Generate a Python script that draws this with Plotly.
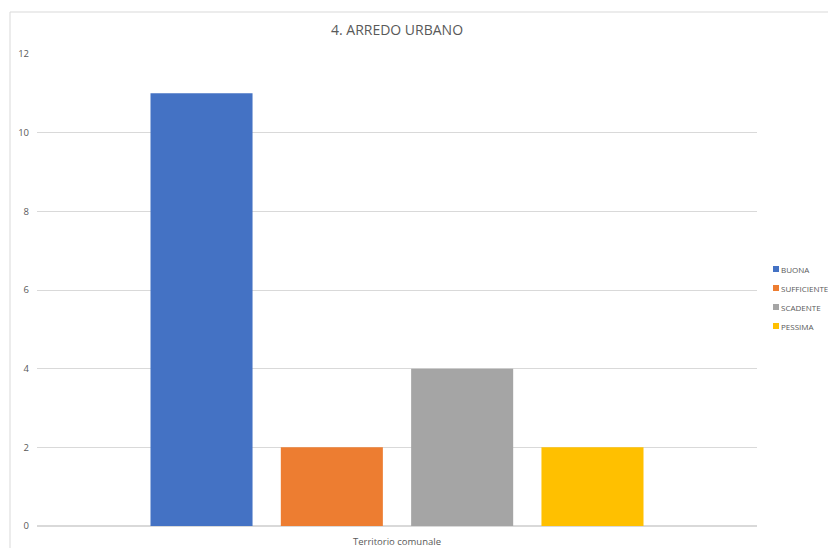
import plotly.graph_objects as go

categories = ["Territorio comunale"]
series_names = ["BUONA", "SUFFICIENTE", "SCADENTE", "PESSIMA"]
series_values = [[11], [2], [4], [2]]
colors = ["#4472C4", "#ED7D31", "#A5A5A5", "#FFC000"]
y_ticks = [0, 2, 4, 6, 8, 10, 12]

FONT = "Open Sans, Liberation Sans, sans-serif"
GREY = "#595959"

fig = go.Figure()
for name, vals, col in zip(series_names, series_values, colors):
    fig.add_trace(go.Bar(x=categories, y=vals, name=name, showlegend=False,
                         marker=dict(color=col, line=dict(width=0))))

# page body has an 8px margin, so figure coords = screen coords - 8
L, R, T, B = 29, 87, 46, 30
PW, PH = 836 - L - R, 548 - T - B

def px(fx):
    return (fx - L) / PW

def py(fy):
    return (548 - B - fy) / PH

fig.update_layout(
    width=836, height=548,
    margin=dict(l=L, r=R, t=T, b=B, autoexpand=False),
    paper_bgcolor="white", plot_bgcolor="white",
    barmode="group", bargap=0.276, bargroupgap=0.217,
    title=dict(text="4. ARREDO URBANO", x=0.5, xref="paper", xanchor="center",
               y=1 - 22/548, yanchor="middle",
               font=dict(family=FONT, size=14, color=GREY)),
    font=dict(family=FONT, size=10, color=GREY),
    showlegend=False,
)
fig.update_yaxes(range=[0, 12], tickvals=y_ticks, showgrid=True, gridcolor="#D9D9D9", gridwidth=1,
                 zeroline=True, zerolinecolor="#D9D9D9", showline=False, ticks="",
                 ticklabelstandoff=7, tickfont=dict(size=9.5, color=GREY))
fig.update_xaxes(showgrid=False, showline=False, ticks="", tickfont=dict(size=9.5, color=GREY),
                 ticklabelstandoff=8)

# chart-area border
fig.add_shape(type="rect", xref="paper", yref="paper", x0=px(2), x1=1.3, y0=-0.2, y1=py(4),
              line=dict(color="#D9D9D9", width=1), fillcolor="rgba(0,0,0,0)", layer="below")

# legend (square swatch + label), laid out like the original
leg_x, leg_y0, leg_step, sq = 765, 261, 19, 6
for i, (name, col) in enumerate(zip(series_names, colors)):
    cy = leg_y0 + i * leg_step
    fig.add_shape(type="rect", xref="paper", yref="paper",
                  x0=px(leg_x), x1=px(leg_x + sq), y0=py(cy + sq / 2), y1=py(cy - sq / 2),
                  line=dict(width=0), fillcolor=col)
    fig.add_annotation(xref="paper", yref="paper", x=px(leg_x + sq), y=py(cy),
                       xanchor="left", yanchor="middle", showarrow=False, text=name,
                       xshift=1, borderpad=0, font=dict(family=FONT, size=8, color=GREY))

fig.write_html("out.html")
